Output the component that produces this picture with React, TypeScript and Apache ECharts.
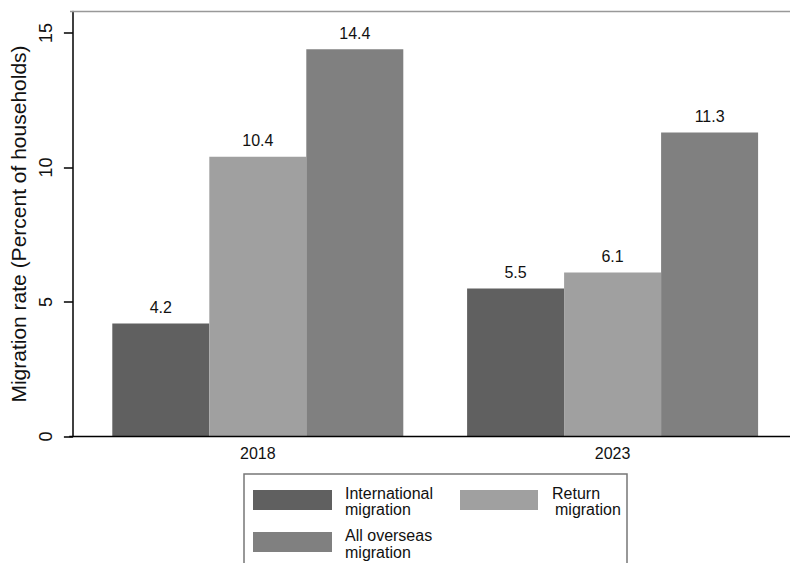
import React, { useEffect, useRef } from 'react';
import * as echarts from 'echarts';

const categories = ['2018', '2023'];
const international = [4.2, 5.5];
const returnMigration = [10.4, 6.1];
const allOverseas = [14.4, 11.3];
const yTicks = [0, 5, 10, 15];
const seriesNames = ['International migration', 'Return migration', 'All overseas migration'];
const legendLines = [
  ['International', 'migration'],
  ['Return', 'migration'],
  ['All overseas', 'migration'],
];
const colors = ['#606060', '#a0a0a0', '#808080'];

export default function App() {
  const ref = useRef<HTMLDivElement>(null);
  useEffect(() => {
    document.body.style.margin = '0';
    const chart = echarts.init(ref.current!, null, { renderer: 'svg' });
    const font = "'Liberation Sans', Arial, sans-serif";
    const values = [international, returnMigration, allOverseas];
    const legendPos = [
      { sx: 253, sy: 490, sw: 79, tx: 345, ty: [493, 509.5] },
      { sx: 460, sy: 490, sw: 78, tx: 552, ty: [493, 509.5] },
      { sx: 253, sy: 532, sw: 79, tx: 345, ty: [535.5, 552] },
    ];
    const legendGraphics: any[] = [
      {
        type: 'rect',
        shape: { x: 244, y: 474, width: 383, height: 110 },
        style: { fill: 'none', stroke: '#777', lineWidth: 1.5 },
      },
    ];
    seriesNames.forEach((_, i) => {
      const p = legendPos[i];
      legendGraphics.push({
        type: 'rect',
        shape: { x: p.sx, y: p.sy, width: p.sw, height: 20 },
        style: { fill: colors[i] },
      });
      legendLines[i].forEach((line, j) => {
        legendGraphics.push({
          type: 'text',
          x: p.tx + (i === 1 && j === 1 ? 3 : 0),
          y: p.ty[j],
          style: {
            text: line,
            fill: '#111',
            font: `16px ${font}`,
            align: 'left',
            verticalAlign: 'middle',
          },
        });
      });
    });

    chart.setOption({
      animation: false,
      backgroundColor: '#fff',
      textStyle: { fontFamily: font },
      grid: { left: 77.5, top: 11.5, width: 715, bottom: 126.5 },
      xAxis: {
        type: 'category',
        data: categories,
        axisLine: { show: false },
        axisTick: { show: false },
        axisLabel: { fontSize: 16, color: '#111', margin: 9 },
      },
      yAxis: {
        type: 'value',
        min: 0,
        max: 15.8,
        offset: 7.5,
        name: 'Migration rate (Percent of households)',
        nameLocation: 'middle',
        nameGap: 37,
        nameTextStyle: { fontSize: 21, color: '#111' },
        axisLine: { show: true, lineStyle: { color: '#000', width: 1.5 } },
        axisTick: { show: true, length: 9, lineStyle: { color: '#000', width: 1.5 }, customValues: yTicks },
        axisLabel: { rotate: 90, fontSize: 18, color: '#111', margin: 18, customValues: yTicks },
        splitLine: { show: false },
      },
      series: seriesNames.map((name, i) => ({
        type: 'bar',
        name,
        data: values[i],
        barWidth: 97,
        barGap: '0%',
        itemStyle: { color: colors[i] },
        label: {
          show: true,
          position: 'top',
          distance: 8,
          fontSize: 16,
          color: '#111',
          formatter: (p: any) => Number(p.value).toFixed(1),
        },
      })),
      graphic: [
        {
          type: 'line',
          shape: { x1: 70, y1: 11.5, x2: 790, y2: 11.5 },
          style: { stroke: '#999', lineWidth: 1.5 },
          z: 10,
        },
        {
          type: 'line',
          shape: { x1: 69.25, y1: 436.5, x2: 790, y2: 436.5 },
          style: { stroke: '#000', lineWidth: 1.5 },
          z: 10,
        },
        ...legendGraphics,
      ],
    });
    return () => chart.dispose();
  }, []);
  return <div ref={ref} style={{ width: 790, height: 563 }} />;
}
